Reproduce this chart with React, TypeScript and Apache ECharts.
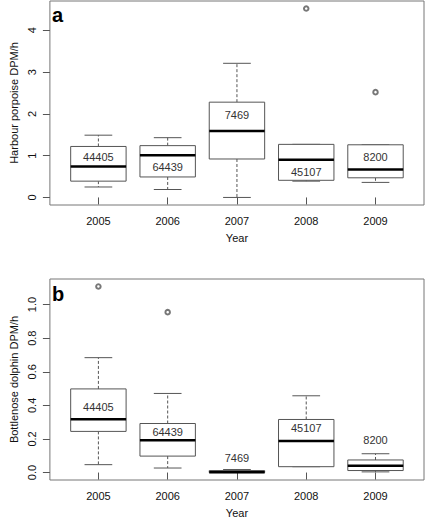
import React, { useEffect, useRef } from 'react';
import * as echarts from 'echarts';

// ---- Data ----
const years = ['2005', '2006', '2007', '2008', '2009'];
const positions = [1, 2, 3, 4, 5];
const counts = [44405, 64439, 7469, 45107, 8200];

// Panel a: Harbour porpoise DPM/h
const porpoiseLow = [0.25, 0.19, 0.0, 0.39, 0.36];
const porpoiseQ1 = [0.39, 0.49, 0.92, 0.41, 0.47];
const porpoiseMedian = [0.74, 1.01, 1.59, 0.9, 0.67];
const porpoiseQ3 = [1.22, 1.24, 2.28, 1.27, 1.26];
const porpoiseHigh = [1.49, 1.43, 3.21, 1.27, 1.26];
const porpoiseOutliers = [
  [4, 4.52],
  [5, 2.52],
];
const porpoiseCountLabelY = [0.97, 0.72, 1.97, 0.61, 0.97];
const porpoiseTicks = [0, 1, 2, 3, 4];

// Panel b: Bottlenose dolphin DPM/h
const dolphinLow = [0.047, 0.027, 0.0, 0.035, 0.004];
const dolphinQ1 = [0.245, 0.098, 0.0, 0.035, 0.012];
const dolphinMedian = [0.318, 0.192, 0.002, 0.188, 0.041];
const dolphinQ3 = [0.498, 0.292, 0.012, 0.316, 0.075];
const dolphinHigh = [0.684, 0.471, 0.018, 0.457, 0.112];
const dolphinOutliers = [
  [1, 1.108],
  [2, 0.955],
];
const dolphinCountLabelY = [0.392, 0.241, 0.088, 0.265, 0.192];
const dolphinTicks = [0, 0.2, 0.4, 0.6, 0.8, 1.0];

// ---- Styles ----
const FONT = '"Liberation Sans", Arial, Helvetica, sans-serif';
const BOX_WIDTH = 0.8;
const CAP_WIDTH = 0.4;
const BOX_COLOR = '#555';
const FRAME_COLOR = '#777';
const TEXT_COLOR = '#111';

function rExtent(values: number[]) {
  const lo = Math.min(...values);
  const hi = Math.max(...values);
  const pad = (hi - lo) * 0.04;
  return [lo - pad, hi + pad];
}

function makeBoxSeries(
  idx: number,
  low: number[],
  q1: number[],
  med: number[],
  q3: number[],
  high: number[],
  labelY: number[]
) {
  const data = positions.map((p, i) => [p, low[i], q1[i], med[i], q3[i], high[i], labelY[i], counts[i]]);
  return {
    type: 'custom',
    xAxisIndex: idx,
    yAxisIndex: idx,
    data,
    encode: { x: 0, y: [1, 2, 3, 4, 5] },
    silent: true,
    renderItem: (_params: any, api: any) => {
      const x = api.value(0);
      const c = (v: number) => api.coord([x, v]);
      const halfBox = api.size([BOX_WIDTH, 0])[0] / 2;
      const halfCap = api.size([CAP_WIDTH, 0])[0] / 2;
      const pLow = c(api.value(1));
      const pQ1 = c(api.value(2));
      const pMed = c(api.value(3));
      const pQ3 = c(api.value(4));
      const pHigh = c(api.value(5));
      const pLab = c(api.value(6));
      const cx = pMed[0];
      const dashed = { stroke: BOX_COLOR, lineWidth: 1, lineDash: [3, 2], fill: null };
      const solid = { stroke: BOX_COLOR, lineWidth: 1, fill: null };
      return {
        type: 'group',
        children: [
          { type: 'line', shape: { x1: cx, y1: pQ3[1], x2: cx, y2: pHigh[1] }, style: dashed },
          { type: 'line', shape: { x1: cx, y1: pQ1[1], x2: cx, y2: pLow[1] }, style: dashed },
          { type: 'line', shape: { x1: cx - halfCap, y1: pHigh[1], x2: cx + halfCap, y2: pHigh[1] }, style: solid },
          { type: 'line', shape: { x1: cx - halfCap, y1: pLow[1], x2: cx + halfCap, y2: pLow[1] }, style: solid },
          {
            type: 'rect',
            shape: { x: cx - halfBox, y: pQ3[1], width: halfBox * 2, height: pQ1[1] - pQ3[1] },
            style: { fill: '#fff', stroke: BOX_COLOR, lineWidth: 1 },
          },
          {
            type: 'line',
            shape: { x1: cx - halfBox, y1: pMed[1], x2: cx + halfBox, y2: pMed[1] },
            style: { stroke: '#000', lineWidth: 2.5 },
          },
          {
            type: 'text',
            x: cx,
            y: pLab[1],
            style: {
              text: String(api.value(7)),
              fill: '#333',
              font: `11px ${FONT}`,
              align: 'center',
              verticalAlign: 'middle',
            },
          },
        ],
      };
    },
  };
}

function makeOutlierSeries(idx: number, pts: number[][]) {
  return {
    type: 'scatter',
    xAxisIndex: idx,
    yAxisIndex: idx,
    data: pts,
    symbol: 'emptyCircle',
    symbolSize: 4.5,
    silent: true,
    itemStyle: { color: '#555', borderColor: '#555', borderWidth: 0.8 },
    z: 3,
  };
}

function xAxis(idx: number) {
  return {
    type: 'value',
    gridIndex: idx,
    min: 0.3,
    max: 5.7,
    name: 'Year',
    nameLocation: 'middle',
    nameGap: 27,
    nameTextStyle: { color: TEXT_COLOR, fontSize: 11, fontFamily: FONT },
    axisLine: { show: false },
    splitLine: { show: false },
    axisTick: { show: true, customValues: positions, length: 7, lineStyle: { color: '#555' } },
    axisLabel: {
      customValues: positions,
      formatter: (v: number) => years[Math.round(v) - 1] ?? '',
      color: TEXT_COLOR,
      fontSize: 11,
      fontFamily: FONT,
      margin: 10,
    },
  };
}

function yAxis(idx: number, name: string, ext: number[], ticks: number[], digits: number) {
  return {
    type: 'value',
    gridIndex: idx,
    min: ext[0],
    max: ext[1],
    name,
    nameLocation: 'middle',
    nameRotate: 90,
    nameGap: 27,
    nameTextStyle: { color: TEXT_COLOR, fontSize: 11, fontFamily: FONT },
    axisLine: { show: false },
    splitLine: { show: false },
    axisTick: { show: true, customValues: ticks, length: 7, lineStyle: { color: '#555' } },
    axisLabel: {
      customValues: ticks,
      rotate: 90,
      formatter: (v: number) => v.toFixed(digits),
      color: TEXT_COLOR,
      fontSize: 11,
      fontFamily: FONT,
      margin: 12,
    },
  };
}

export default function App() {
  const ref = useRef<HTMLDivElement>(null);
  useEffect(() => {
    if (!ref.current) return;
    const chart = echarts.init(ref.current, null, { renderer: 'svg' });
    const extA = rExtent([...porpoiseLow, ...porpoiseHigh, ...porpoiseOutliers.map((p) => p[1])]);
    const extB = rExtent([...dolphinLow, ...dolphinHigh, ...dolphinOutliers.map((p) => p[1])]);
    chart.setOption({
      animation: false,
      backgroundColor: '#fff',
      textStyle: { fontFamily: FONT },
      grid: [
        { left: 41, top: 1, width: 383, height: 204, show: true, borderColor: FRAME_COLOR, borderWidth: 1, backgroundColor: 'transparent' },
        { left: 41, top: 279, width: 383, height: 204, show: true, borderColor: FRAME_COLOR, borderWidth: 1, backgroundColor: 'transparent' },
      ],
      xAxis: [xAxis(0), xAxis(1)],
      yAxis: [
        yAxis(0, 'Harbour porpoise DPM/h', extA, porpoiseTicks, 0),
        yAxis(1, 'Bottlenose dolphin DPM/h', extB, dolphinTicks, 1),
      ],
      graphic: [
        { type: 'text', left: 52, top: 5, style: { text: 'a', font: `bold 20px ${FONT}`, fill: '#000' } },
        { type: 'text', left: 52, top: 284, style: { text: 'b', font: `bold 20px ${FONT}`, fill: '#000' } },
      ],
      series: [
        makeBoxSeries(0, porpoiseLow, porpoiseQ1, porpoiseMedian, porpoiseQ3, porpoiseHigh, porpoiseCountLabelY),
        makeOutlierSeries(0, porpoiseOutliers),
        makeBoxSeries(1, dolphinLow, dolphinQ1, dolphinMedian, dolphinQ3, dolphinHigh, dolphinCountLabelY),
        makeOutlierSeries(1, dolphinOutliers),
      ],
    });
    return () => chart.dispose();
  }, []);
  return (
    <div
      ref={ref}
      style={{ position: 'absolute', left: 0, top: 0, width: 425, height: 519 }}
    />
  );
}
